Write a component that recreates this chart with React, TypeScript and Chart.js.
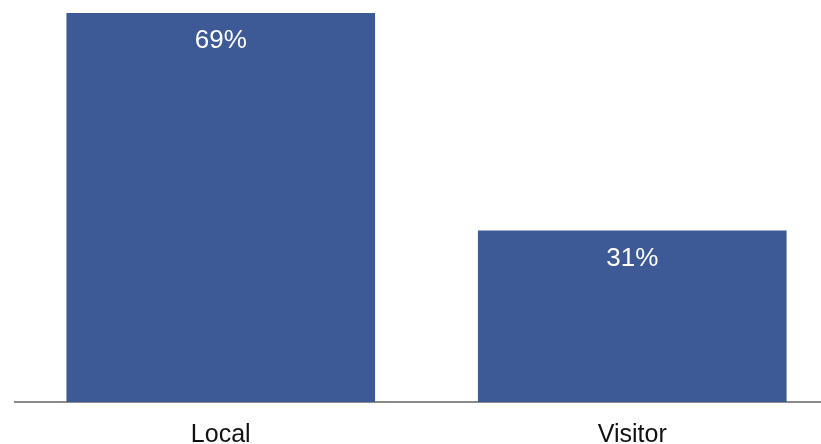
import React, { useEffect, useRef } from "react";
import { Chart, registerables } from "chart.js";

Chart.register(...registerables);

const categories = ["Local", "Visitor"];
const shares = [69.4, 30.6];
const valueLabels = ["69%", "31%"];

const barColor = "#3D5996";

const insideLabels = {
  id: "insideLabels",
  afterDatasetsDraw(chart: any) {
    const { ctx } = chart;
    const meta = chart.getDatasetMeta(0);
    ctx.save();
    ctx.fillStyle = "#ffffff";
    ctx.font = "26px 'Liberation Sans', Arial, sans-serif";
    ctx.textAlign = "center";
    ctx.textBaseline = "middle";
    meta.data.forEach((bar: any, i: number) => {
      ctx.fillText(valueLabels[i], bar.x, bar.y + 28);
    });
    ctx.restore();
  },
};

export default function App() {
  const ref = useRef<HTMLCanvasElement | null>(null);
  useEffect(() => {
    if (!ref.current) return;
    const chart = new Chart(ref.current, {
      type: "bar",
      data: {
        labels: categories,
        datasets: [
          {
            data: shares,
            backgroundColor: barColor,
            borderWidth: 0,
            barPercentage: 0.75,
            categoryPercentage: 1,
          },
        ],
      },
      options: {
        animation: false,
        responsive: false,
        maintainAspectRatio: false,
        layout: { padding: { top: 13, left: 15, right: 0, bottom: 0 } },
        plugins: { legend: { display: false }, tooltip: { enabled: false } },
        scales: {
          x: {
            grid: { display: false, drawTicks: false },
            border: { display: true, color: "#8a8a8a", width: 2 },
            ticks: {
              color: "#111111",
              padding: 18,
              font: { family: "'Liberation Sans', Arial, sans-serif", size: 25 },
            },
          },
          y: {
            display: false,
            min: 0,
            max: Math.max(...shares),
          },
        },
      },
      plugins: [insideLabels],
    });
    return () => chart.destroy();
  }, []);

  return (
    <div
      style={{
        position: "fixed",
        left: 0,
        top: 0,
        width: 821,
        height: 444,
        overflow: "hidden",
        background: "#fff",
      }}
    >
      <canvas
        ref={ref}
        width={838}
        height={468}
        style={{ display: "block", width: 838, height: 468 }}
      />
    </div>
  );
}
